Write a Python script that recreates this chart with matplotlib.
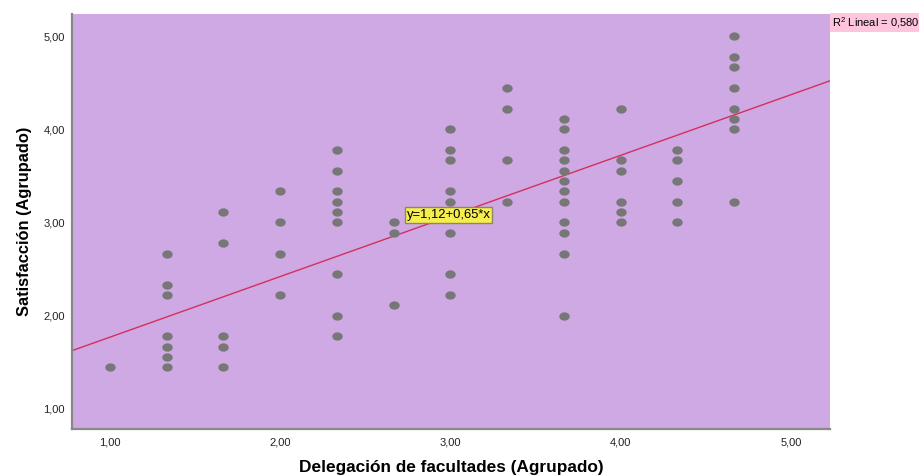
import matplotlib
matplotlib.use('Agg')
import matplotlib.pyplot as plt
from matplotlib.path import Path
import numpy as np

plt.rcParams['font.family'] = ['Liberation Sans', 'DejaVu Sans']
plt.rcParams['mathtext.fontset'] = 'custom'
plt.rcParams['mathtext.rm'] = 'Liberation Sans'

# ---- data ----
x_levels = [1.000, 1.333, 1.667, 2.000, 2.333, 2.667, 3.000, 3.333, 3.667, 4.000, 4.333, 4.667]
y_by_level = [
    [1.455],
    [2.667, 2.333, 2.222, 1.778, 1.667, 1.556, 1.455],
    [3.111, 2.778, 1.778, 1.667, 1.455],
    [3.333, 3.000, 2.667, 2.222],
    [3.778, 3.556, 3.333, 3.222, 3.111, 3.000, 2.444, 2.000, 1.778],
    [3.000, 2.889, 2.111],
    [4.000, 3.778, 3.667, 3.333, 3.222, 2.889, 2.444, 2.222],
    [4.444, 4.222, 3.667, 3.222],
    [4.111, 4.000, 3.778, 3.667, 3.556, 3.444, 3.333, 3.222, 3.000, 2.889, 2.667, 2.000],
    [4.222, 3.667, 3.556, 3.222, 3.111, 3.000],
    [3.778, 3.667, 3.444, 3.222, 3.000],
    [5.000, 4.778, 4.667, 4.444, 4.222, 4.111, 4.000, 3.222],
]
fit_intercept = 1.12
fit_slope = 0.65
r2_value = "0,580"
equation_label = "y=1,12+0,65*x"
x_ticks = [1, 2, 3, 4, 5]
y_ticks = [1, 2, 3, 4, 5]
x_title = "Delegación de facultades (Agrupado)"
y_title = "Satisfacción (Agrupado)"

# ---- figure ----
fig = plt.figure(figsize=(9.2, 4.76), dpi=100)
ax = fig.add_axes([72 / 920, 1 - 429 / 476, (830 - 72) / 920, (429 - 14) / 476])
ax.set_facecolor('#CFA9E3')

xs = []
ys = []
for xv, yl in zip(x_levels, y_by_level):
    for yv in yl:
        xs.append(xv)
        ys.append(yv)

t = np.linspace(0, 2 * np.pi, 41)
ellipse = Path(np.column_stack([np.cos(t), 0.8 * np.sin(t)]), closed=True)
ax.scatter(xs, ys, marker=ellipse, s=56, color='#777777', linewidths=0, zorder=3)

xlim = (0.777, 5.23)
ylim = (0.785, 5.236)
ax.set_xlim(*xlim)
ax.set_ylim(*ylim)

lx = np.array(xlim)
ax.plot(lx, fit_intercept + fit_slope * lx, color='#D42F5E', lw=1.0, zorder=2)

ax.text(2.745, 3.08, equation_label, fontsize=9.4, ha='left', va='center', zorder=5,
        bbox=dict(boxstyle='square,pad=0.12', facecolor='#F6EE4E', edgecolor='#8A8A60', lw=1))

ax.set_xticks(x_ticks)
ax.set_xticklabels([f"{v:.2f}".replace('.', ',') for v in x_ticks], fontsize=8, color='#222222')
ax.set_yticks(y_ticks)
ax.set_yticklabels([f"{v:.2f}".replace('.', ',') for v in y_ticks], fontsize=8, color='#222222')
ax.tick_params(axis='both', length=0)
ax.tick_params(axis='x', pad=6)
ax.tick_params(axis='y', pad=5)

for s in ['top', 'right']:
    ax.spines[s].set_visible(False)
for s in ['left', 'bottom']:
    ax.spines[s].set_color('#888888')
    ax.spines[s].set_linewidth(1.6)

ax.set_xlabel(x_title, fontsize=12.4, fontweight='bold', labelpad=9)
ax.set_ylabel(y_title, fontsize=11.8, fontweight='bold', labelpad=8)

fig.text(832 / 920, 1 - 22.5 / 476, r"R$^2$ Lineal = " + r2_value, fontsize=8,
         ha='left', va='center',
         bbox=dict(boxstyle='square,pad=0.18', facecolor='#FFC4DE', edgecolor='none'))

fig.savefig('out.png', dpi=100)
